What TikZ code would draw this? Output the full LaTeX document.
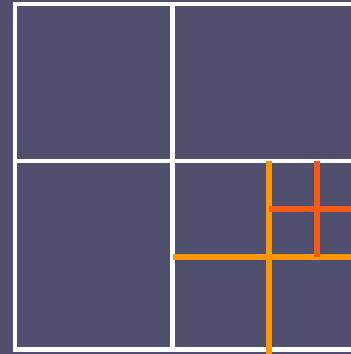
\documentclass[tikz,border=0pt]{standalone}
\usepackage{tikz}
\definecolor{slate}{RGB}{80,80,110}
\definecolor{lightorange}{RGB}{255,152,0}
\definecolor{darkorange}{RGB}{242,92,24}
\tikzset{
    % white cell borders
    cellline/.style={
        line width=4.5pt,
        white,
        line join=miter
    },
    % first split of the lower right cell
    splitline/.style={
        line width=5.5pt,
        lightorange
    },
    % second split
    subsplitline/.style={
        line width=5.5pt,
        darkorange
    }
}

\begin{document}
\begin{tikzpicture}[x=1pt, y=-1pt]
	\fill[slate] (0,0) rectangle (351,354);
	\useasboundingbox (0,0) rectangle (351,354);

	\draw[cellline] (351,4) --(15,4) --(15,349.5) --(351,349.5);
	\draw[cellline] (172.5,4) --(172.5,349.5);
	\draw[cellline] (15,161) --(351,161);

	\draw[splitline] (269,161) --(269,354);
	\draw[splitline] (172.5,257) --(351,257);

	\draw[subsplitline] (317,161) --(317,257);
	\draw[subsplitline] (269,209) --(351,209);
\end{tikzpicture}
\end{document}
